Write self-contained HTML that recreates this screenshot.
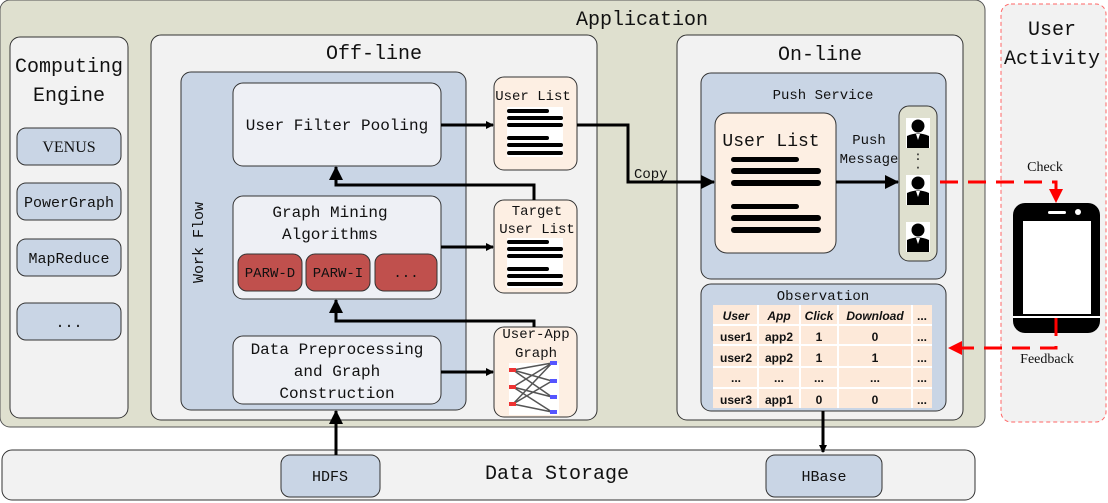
<!DOCTYPE html>
<html><head><meta charset="utf-8"><style>
body{margin:0;background:#fff}
svg{display:block}
text{font-family:"Liberation Mono",monospace;fill:#111}
.s{font-family:"Liberation Sans",sans-serif;font-weight:bold;font-size:12px}
</style></head><body>
<svg width="1108" height="503" viewBox="0 0 1108 503" xmlns="http://www.w3.org/2000/svg">
<defs>
<marker id="a" markerWidth="8" markerHeight="8" refX="7" refY="4" orient="auto" markerUnits="userSpaceOnUse"><path d="M0,0 L8,4 L0,8 z" fill="#000"/></marker>
<marker id="ab" markerWidth="14" markerHeight="14" refX="13" refY="7" orient="auto" markerUnits="userSpaceOnUse"><path d="M0,0 L14,7 L0,14 z" fill="#000"/></marker>
<marker id="r" markerWidth="14" markerHeight="14" refX="13" refY="7" orient="auto" markerUnits="userSpaceOnUse"><path d="M0,0 L14,7 L0,14 z" fill="#f00"/></marker>
<g id="lines">
<rect x="0" y="0" width="56" height="50" fill="#fff"/>
<rect x="0" y="2" width="42" height="4" rx="2" fill="#000"/>
<rect x="0" y="9" width="56" height="4" rx="2" fill="#000"/>
<rect x="0" y="16" width="56" height="4" rx="2" fill="#000"/>
<rect x="0" y="29" width="42" height="4" rx="2" fill="#000"/>
<rect x="0" y="36" width="56" height="4" rx="2" fill="#000"/>
<rect x="0" y="44" width="56" height="4" rx="2" fill="#000"/>
</g>
<g id="person">
<rect x="0" y="0" width="24" height="30" fill="#fff"/>
<circle cx="12" cy="8" r="6.5" fill="#000"/>
<path d="M1,30 L1,18 Q12,13 23,18 L23,30 z" fill="#000"/>
<path d="M10,16 L14,16 L12,22 z" fill="#fff"/>
</g>
</defs>
<rect x="0" y="0" width="985" height="427" rx="10" fill="#dfe0cf" stroke="#555"/>
<text x="642" y="25" font-size="20" text-anchor="middle">Application</text>

<rect x="10" y="37" width="118" height="381" rx="10" fill="#f2f2f2" stroke="#333"/>
<text x="69" y="72" font-size="20" text-anchor="middle">Computing</text>
<text x="69" y="101" font-size="20" text-anchor="middle">Engine</text>
<g font-size="15" text-anchor="middle">
<rect x="17" y="128" width="104" height="37" rx="9" fill="#c9d5e5" stroke="#333"/><text x="69" y="152" style="font-family:'Liberation Serif',serif" font-size="16">VENUS</text>
<rect x="17" y="183" width="104" height="37" rx="9" fill="#c9d5e5" stroke="#333"/><text x="69" y="207">PowerGraph</text>
<rect x="17" y="239" width="104" height="37" rx="9" fill="#c9d5e5" stroke="#333"/><text x="69" y="263">MapReduce</text>
<rect x="17" y="303" width="104" height="37" rx="9" fill="#c9d5e5" stroke="#333"/><text x="69" y="327">...</text>
</g>

<rect x="151" y="35" width="446" height="385" rx="10" fill="#f2f2f2" stroke="#333"/>
<text x="374" y="59" font-size="20" text-anchor="middle">Off-line</text>
<rect x="181" y="72" width="285" height="338" rx="10" fill="#c9d5e5" stroke="#333"/>
<text x="0" y="0" font-size="15" transform="translate(203,283) rotate(-90)">Work Flow</text>
<rect x="233" y="83" width="208" height="83" rx="10" fill="#eef0f5" stroke="#333"/>
<text x="337" y="130" font-size="16" text-anchor="middle">User Filter Pooling</text>
<rect x="233" y="196" width="208" height="103" rx="10" fill="#eef0f5" stroke="#333"/>
<text x="330" y="217" font-size="16" text-anchor="middle">Graph Mining</text>
<text x="330" y="239" font-size="16" text-anchor="middle">Algorithms</text>
<g font-size="14" text-anchor="middle">
<rect x="238" y="254" width="64" height="37" rx="9" fill="#c0504d" stroke="#333"/><text x="270" y="277">PARW-D</text>
<rect x="306" y="254" width="64" height="37" rx="9" fill="#c0504d" stroke="#333"/><text x="338" y="277">PARW-I</text>
<rect x="375" y="254" width="62" height="37" rx="9" fill="#c0504d" stroke="#333"/><text x="406" y="277">...</text>
</g>
<rect x="233" y="336" width="208" height="68" rx="10" fill="#eef0f5" stroke="#333"/>
<text x="337" y="354" font-size="16" text-anchor="middle">Data Preprocessing</text>
<text x="337" y="376" font-size="16" text-anchor="middle">and Graph</text>
<text x="337" y="398" font-size="16" text-anchor="middle">Construction</text>

<rect x="494" y="77" width="83" height="93" rx="10" fill="#fdefe3" stroke="#333"/>
<text x="533" y="100" font-size="14" text-anchor="middle">User List</text>
<use href="#lines" x="507" y="107"/>
<rect x="494" y="200" width="83" height="93" rx="10" fill="#fdefe3" stroke="#333"/>
<text x="537" y="215" font-size="14" text-anchor="middle">Target</text>
<text x="537" y="233" font-size="14" text-anchor="middle">User List</text>
<use href="#lines" x="507" y="238"/>
<rect x="494" y="327" width="83" height="90" rx="10" fill="#fdefe3" stroke="#333"/>
<text x="536" y="338" font-size="14" text-anchor="middle">User-App</text>
<text x="536" y="357" font-size="14" text-anchor="middle">Graph</text>
<rect x="509" y="363" width="50" height="52" fill="#fff"/>
<g stroke="#555" stroke-width="1.5">
<path d="M513,370 L552,397 M513,370 L552,381 M513,387 L552,363 M513,387 L552,397 M513,387 L552,412 M513,404 L552,363 M513,404 L552,381 M513,404 L552,412 M513,370 L552,363"/>
</g>
<g fill="#e33"><rect x="509" y="368" width="7" height="4"/><rect x="509" y="385" width="7" height="4"/><rect x="509" y="402" width="7" height="4"/></g>
<g fill="#55f"><rect x="550" y="361" width="7" height="4"/><rect x="550" y="379" width="7" height="4"/><rect x="550" y="395" width="7" height="4"/><rect x="550" y="410" width="7" height="4"/></g>

<rect x="677" y="35" width="286" height="385" rx="10" fill="#f2f2f2" stroke="#333"/>
<text x="820" y="60" font-size="20" text-anchor="middle">On-line</text>
<rect x="701" y="73" width="245" height="206" rx="10" fill="#c9d5e5" stroke="#333"/>
<text x="823" y="99" font-size="14" text-anchor="middle">Push Service</text>
<rect x="715" y="113" width="121" height="140" rx="12" fill="#fdefe3" stroke="#333"/>
<text x="771" y="146" font-size="18" text-anchor="middle">User List</text>
<g fill="#000">
<rect x="731" y="157" width="68" height="5" rx="2.5"/><rect x="731" y="168" width="90" height="6" rx="3"/><rect x="731" y="180" width="90" height="6" rx="3"/>
<rect x="731" y="204" width="68" height="5" rx="2.5"/><rect x="731" y="215" width="90" height="6" rx="3"/><rect x="731" y="227" width="90" height="6" rx="3"/>
</g>
<text x="869" y="144" font-size="14" text-anchor="middle">Push</text>
<text x="869" y="163" font-size="14" text-anchor="middle">Message</text>
<rect x="899" y="106" width="38" height="155" rx="10" fill="#dfe0cf" stroke="#333"/>
<use href="#person" x="906" y="118"/>
<use href="#person" x="906" y="175"/>
<use href="#person" x="906" y="222"/>
<text x="918" y="160" font-size="12" text-anchor="middle">:</text>
<text x="918" y="171" font-size="12" text-anchor="middle">·</text>

<rect x="701" y="284" width="245" height="127" rx="10" fill="#c9d5e5" stroke="#333"/>
<text x="823" y="300" font-size="14" text-anchor="middle">Observation</text>
<rect x="713" y="305" width="219" height="103" fill="#fde9d9"/>
<g stroke="#fff" stroke-width="2">
<line x1="713" y1="325" x2="932" y2="325"/><line x1="713" y1="345" x2="932" y2="345"/><line x1="713" y1="367" x2="932" y2="367"/><line x1="713" y1="388" x2="932" y2="388"/>
<line x1="758" y1="305" x2="758" y2="408"/><line x1="800" y1="305" x2="800" y2="408"/><line x1="838" y1="305" x2="838" y2="408"/><line x1="912" y1="305" x2="912" y2="408"/>
</g>
<g class="s" text-anchor="middle">
<text x="736" y="320" font-style="italic" class="s">User</text><text x="779" y="320" font-style="italic" class="s">App</text><text x="819" y="320" font-style="italic" class="s">Click</text><text x="875" y="320" font-style="italic" class="s">Download</text><text x="922" y="320" class="s">...</text>
<text x="736" y="341" class="s">user1</text><text x="779" y="341" class="s">app2</text><text x="819" y="341" class="s">1</text><text x="875" y="341" class="s">0</text><text x="922" y="341" class="s">...</text>
<text x="736" y="362" class="s">user2</text><text x="779" y="362" class="s">app2</text><text x="819" y="362" class="s">1</text><text x="875" y="362" class="s">1</text><text x="922" y="362" class="s">...</text>
<text x="736" y="382" class="s">...</text><text x="779" y="382" class="s">...</text><text x="819" y="382" class="s">...</text><text x="875" y="382" class="s">...</text><text x="922" y="382" class="s">...</text>
<text x="736" y="404" class="s">user3</text><text x="779" y="404" class="s">app1</text><text x="819" y="404" class="s">0</text><text x="875" y="404" class="s">0</text><text x="922" y="404" class="s">...</text>
</g>

<rect x="1001" y="4" width="105" height="418" rx="10" fill="#f2f2f2" stroke="#f66" stroke-dasharray="4,3"/>
<text x="1052" y="35" font-size="20" text-anchor="middle">User</text>
<text x="1052" y="64" font-size="20" text-anchor="middle">Activity</text>
<text x="1045" y="171" font-size="14" text-anchor="middle" style="font-family:'Liberation Serif',serif">Check</text>
<text x="1047" y="363" font-size="14" text-anchor="middle" style="font-family:'Liberation Serif',serif">Feedback</text>
<rect x="1013" y="203" width="87" height="130" rx="12" fill="#000"/>
<rect x="1023" y="221" width="68" height="93" fill="#fff"/>
<rect x="1013" y="316" width="87" height="2" fill="#fff"/>
<rect x="1048" y="211" width="18" height="3" rx="1.5" fill="#fff"/>
<circle cx="1078" cy="212" r="3" fill="#fff"/>

<rect x="2" y="450" width="973" height="50" rx="10" fill="#f2f2f2" stroke="#333"/>
<text x="557" y="479" font-size="20" text-anchor="middle">Data Storage</text>
<rect x="281" y="455" width="99" height="42" rx="9" fill="#c9d5e5" stroke="#333"/>
<text x="330" y="481" font-size="15" text-anchor="middle">HDFS</text>
<rect x="766" y="455" width="116" height="42" rx="9" fill="#c9d5e5" stroke="#333"/>
<text x="824" y="481" font-size="15" text-anchor="middle">HBase</text>

<g stroke="#000" stroke-width="3" fill="none">
<path d="M441,125 L493,125" marker-end="url(#a)"/>
<path d="M441,247 L493,247" marker-end="url(#a)"/>
<path d="M441,372 L493,372" marker-end="url(#a)"/>
<path d="M534,200 L534,185 L336,185 L336,167" marker-end="url(#ab)"/>
<path d="M534,327 L534,321 L336,321 L336,300" marker-end="url(#ab)"/>
<path d="M577,125 L628,125 L628,182 L714,182" marker-end="url(#ab)"/>
<path d="M836,182 L898,182" marker-end="url(#ab)"/>
<path d="M336,455 L336,411" marker-end="url(#ab)"/>
<path d="M823,411 L823,452" marker-end="url(#a)"/>
</g>
<text x="634" y="178" font-size="14">Copy</text>
<g stroke="#f00" stroke-width="3" fill="none" stroke-dasharray="18,10">
<path d="M940,182 L1056,182 L1056,202" marker-end="url(#r)"/>
<path d="M1056,318 L1056,348 L949,348" marker-end="url(#r)"/>
</g>
</svg>
</body></html>
